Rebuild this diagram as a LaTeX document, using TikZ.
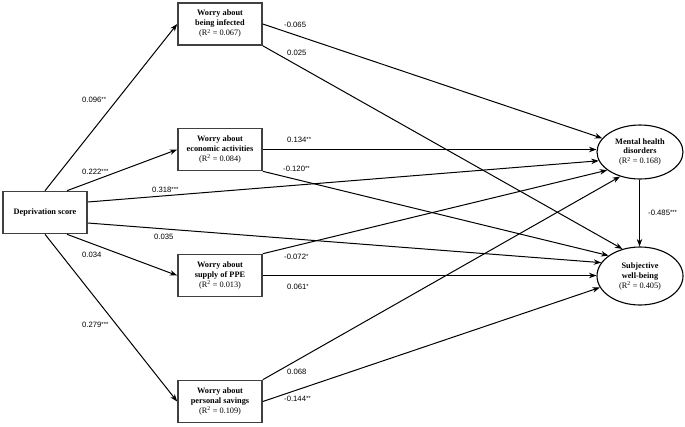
\documentclass[tikz,border=0pt]{standalone}
\usepackage{fontspec}
\setmainfont{Liberation Serif}
\newfontfamily\labfont{Liberation Sans}
\usetikzlibrary{arrows.meta,shapes.geometric}
\newcommand\myRsq[1]{(R\textsuperscript{2} = #1)}
\newcommand\mystars[1]{\raisebox{1.2pt}{\fontsize{6}{6}\selectfont #1}}
\begin{document}
\begin{tikzpicture}[x=1pt,y=-1pt,
 box/.style={draw=black!75,line width=1.6pt,minimum width=84pt,minimum height=42pt,inner sep=0pt,align=center,font=\fontsize{8.3}{10}\selectfont},
 oval/.style={draw=black,line width=1.1pt,ellipse,minimum width=86pt,minimum height=54pt,inner sep=0pt,align=center,font=\fontsize{8.3}{10}\selectfont},
 arr/.style={-{Stealth[length=7.5pt,width=5.5pt]},line width=1pt},
 lab/.style={anchor=west,inner sep=0pt,font=\labfont\fontsize{7.7}{9}\selectfont}]
\useasboundingbox (0,0) rectangle (685,426);
\fill[white] (0,0) rectangle (685,426);

\node[box] (dep) at (45,212.5) {\textbf{Deprivation score}};
\node[box] (inf) at (220,24) {\textbf{Worry about}\\\textbf{being infected}\\\myRsq{0.067}};
\node[box] (eco) at (220,149.5) {\textbf{Worry about}\\\textbf{economic activities}\\\myRsq{0.084}};
\node[box] (ppe) at (220,275.5) {\textbf{Worry about}\\\textbf{supply of PPE}\\\myRsq{0.013}};
\node[box] (sav) at (220,401.5) {\textbf{Worry about}\\\textbf{personal savings}\\\myRsq{0.109}};
\node[oval] (mh) at (640,152) {\textbf{Mental health}\\\textbf{disorders}\\\myRsq{0.168}};
\node[oval,minimum height=58pt] (swb) at (640,276) {\textbf{Subjective}\\\textbf{well-being}\\\myRsq{0.405}};

\draw[arr] (dep.north) -- (inf.west);
\draw[arr] ([xshift=22pt]dep.north) -- (eco.west);
\draw[arr] ([yshift=10.5pt]dep.east) -- (mh.192);
\draw[arr] ([yshift=-10.5pt]dep.east) -- (swb.161);
\draw[arr] ([xshift=22pt]dep.south) -- (ppe.west);
\draw[arr] (dep.south) -- (sav.west);

\draw[arr] (inf.east) -- (mh.160);
\draw[arr] (inf.south east) -- (swb.123);
\draw[arr] (eco.east) -- (eco.east -| mh.west);
\draw[arr] (eco.south east) -- (swb.147);
\draw[arr] (ppe.north east) -- (mh.209);
\draw[arr] (ppe.east) -- (ppe.east -| swb.west);
\draw[arr] (sav.north east) -- (mh.231);
\draw[arr] (sav.east) -- (swb.196);
\draw[arr] ([xshift=-0.5pt]mh.south) -- ([xshift=-0.5pt]swb.north);

\node[lab] (l1) at (82,100) {0.096\mystars{**}};
\node[lab] (l2) at (82,172) {0.222\mystars{***}};
\node[lab] (l3) at (152,190) {0.318\mystars{***}};
\node[lab] (l4) at (154,237) {0.035};
\node[lab] (l5) at (82,255) {0.034};
\node[lab] (l6) at (82,325) {0.279\mystars{***}};
\node[lab] (l7) at (284,25) {-0.065};
\node[lab] (l8) at (287,53) {0.025};
\node[lab] (l9) at (287,140) {0.134\mystars{**}};
\node[lab] (l10) at (283,169) {-0.120\mystars{**}};
\node[lab] (l11) at (284,257) {-0.072\mystars{*}};
\node[lab] (l12) at (287,287) {0.061\mystars{*}};
\node[lab] (l13) at (287,372) {0.068};
\node[lab] (l14) at (284,399) {-0.144\mystars{**}};
\node[lab] (l15) at (648,213) {-0.485\mystars{***}};
\end{tikzpicture}
\end{document}
